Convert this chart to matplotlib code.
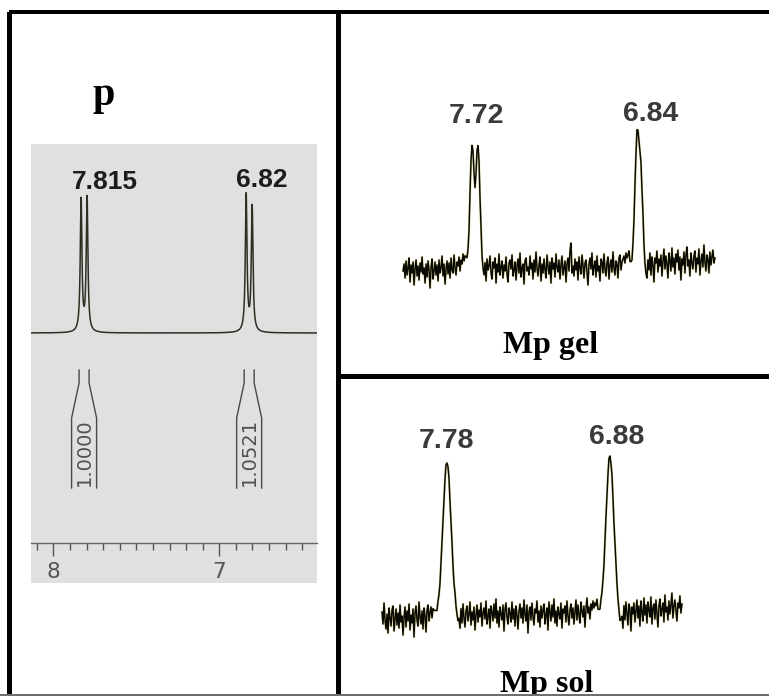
import numpy as np
import matplotlib
matplotlib.use("Agg")
import matplotlib.pyplot as plt
from matplotlib.patches import Rectangle
from matplotlib.ticker import FixedLocator, MultipleLocator, FormatStrFormatter

W, H = 769, 696
DPI = 100

# ---------------- panel p : neat compound, resolved doublets ----------------
P_PEAK_LABELS = ["7.815", "6.82"]
P_MULTIPLET_PPM = [7.815, 6.82]
P_LINE_PPM = [7.833, 7.797, 6.838, 6.802]
P_LINE_HEIGHTS = [132, 134, 137, 125]
P_LINE_HWHM = 0.006
P_INTEGRALS = ["1.0000", "1.0521"]
P_MAJOR_TICKS = [8, 7]
P_WINDOW = (8.135, 6.411)

# ---------------- Mp gel ----------------
GEL_PEAK_LABELS = ["7.72", "6.84"]
GEL_PEAK_PPM = [7.72, 6.84]
GEL_LINE_PPM = [7.736, 7.704, 6.840, 6.818]
GEL_LINE_HEIGHTS = [121, 121, 123, 83]
GEL_LINE_SIGMA = [0.0109, 0.0109, 0.0115, 0.0109]
GEL_WINDOW = (8.111, 6.416)
GEL_NOISE = [
    -4, 3, -11, 6, -8, -1, 9, -15, 2, -6,
    5, -18, -2, 7, -9, 1, -13, 4, -5, 10,
    -7, -1, -16, 3, -10, 6, -3, -21, 0, 8,
    -12, -4, 5, -8, 2, -14, 7, -6, -1, 11,
    -9, 3, -17, -2, 6, -7, 4, -11, 9, -3,
    -6, 12, -1, -8, 5, 1, 10, -4, 7, 3,
    13, 6, 11, 9,
    4, 2, -2, 3, 0, -1, 2, 1, -3, 0, 2, -1, 1, -2, 3, -4, -6,
    -9, 4, -14, 8, -3, 1, 11, -6, -12, 5,
    -1, 9, -16, 3, -5, 13, -8, 0, 6, -11,
    2, -4, 10, -7, -15, 4, 7, -2, 12, -9,
    -3, 5, -13, 1, 8, -6, 14, -10, -1, 3,
    -17, 6, 9, -4, 0, -8, 11, -2, 4, -12,
    7, -5, 15, -1, -9, 2, 10, -14, 3, -6,
    8, -3, -11, 12, 1, -7, 5, -16, 9, -2,
    4, -10, 13, 0, -5, 7, -12, 2, 11, -8,
    -1, 6, -15, 3, 9, -4, 16, 24, -6, 1,
    -9, 8, -3, 5, -13, 10, -1, -7, 12, 2,
    -11, 4, 7, -5, -18, 3, 9, -2, 14, -8,
    0, 6, -10, 11, -4, 1, -14, 8, 5, -6,
    13, -2, -9, 4, 10, -12, 2, 7, -5, 15,
    -1, -8, 6, 3, -11, 9, 12, -3, 5, 8,
    11, 4, 14, 9, 12, 16,
    5, 3, -1, 2, 0, 1, -2, 3, 1, -1, 0, 2, -3, 1, -5, -8, -10,
    -12, 7, -3, 14, -8, 10, 2, -15, 9, 4,
    16, -5, 8, 1, 12, -9, 6, 18, -2, 11,
    3, -11, 14, 7, -4, 19, 0, 9, -7, 13,
    5, 17, -3, 10, -13, 8, 2, 15, -6, 12,
    20, 1, 7, -9, 14, 4, -2, 11, 16, -5,
    9, 3, 18, -8, 6, 13, 0, 22, 5, -4,
    12, 8, -6, 15, 2, 10, 17, 4, 9,
]

# ---------------- Mp sol ----------------
SOL_PEAK_LABELS = ["7.78", "6.88"]
SOL_PEAK_PPM = [7.78, 6.88]
SOL_LINE_HEIGHTS = [153, 158]
SOL_LINE_SIGMA = [0.022, 0.022]
SOL_WINDOW = (8.139, 6.482)
SOL_NOISE = [
    3, -9, 12, -5, -14, 1, -18, 7, -3, -11,
    5, 9, -16, -4, 6, -10, 2, -13, 10, -7,
    -1, -20, -3, 8, -12, 4, -6, 11, -15, 0,
    -8, 6, -22, 2, 9, -5, -11, 13, -2, -9,
    4, -14, 7, -1, -17, 5, 10, -6, 2, 8,
    -3, 6, 4,
    3, 1, -2, 2, 0, -1, 3, 1, 0, -2, 1, 2, -1, 0, 2, -2, 1, 3, 0, -1,
    2, -3, -6, -9, -5,
    -14, 6, -8, 11, -3, -12, 4, 9, -6, 1,
    13, -10, 3, -5, 8, -15, 0, 10, -7, 5,
    -2, 12, -11, 2, 7, -4, 14, -9, -1, 6,
    -13, 9, 3, -6, 11, -3, 16, -8, 4, -12,
    8, 1, -5, 10, -16, 5, 12, -2, -9, 7,
    2, -7, 13, -4, 6, -11, 9, 0, -14, 4,
    11, -3, 7, -8, 15, 1, -6, 10, -18, 3,
    8, -5, 12, -1, -10, 6, 2, 14, -7, 4,
    -12, 9, -3, 5, 11, -9, 0, 7, -15, 13,
    3, -6, 10, -2, 16, -8, 4, -11, 8, 1,
    -4, 12, -13, 6, 2, 9, -7, 14, -1, -10,
    5, 11, -3, 7, -9, 3, 15, -5, 10, 0,
    -8, 13, 4, -2, 9, -12, 6, 17, 2, 8,
    -4, 11, 5, 14, 7, 12, 9, 15,
    4, 2, -1, 3, 1, 0, -2, 2, 1, -1, 0, 3, 1, -1, 2, 0, -2, 1, 3, -1,
    -4, -7, -12, -8, -3,
    -14, 9, -5, 13, 2, -10, 11, 6, -16, 8,
    1, 12, -7, 4, 15, -3, 9, -11, 14, 3,
    -6, 17, 0, 10, -8, 13, 5, -2, 18, -9,
    7, 11, -4, 15, 2, -12, 9, 16, -1, 6,
    12, -7, 20, 3, 8, -5, 14, 1, 10, 22,
    -3, 9, 15, 4, -6, 12, 7, 19, 2, 11,
]

SANS = ["Liberation Sans", "DejaVu Sans"]
SERIF = ["Liberation Serif", "DejaVu Serif"]
PX = 72.0 / DPI  # points per pixel


def px_axes(fig, x0, y0, x1, y1):
    return fig.add_axes([x0 / W, 1 - y1 / H, (x1 - x0) / W, (y1 - y0) / H])


def lorentz(x, c, h, g):
    return h / (1 + ((x - c) / g) ** 2)


def gauss(x, c, h, s):
    return h * np.exp(-0.5 * ((x - c) / s) ** 2)


def noisy_trace(ax, ppm, y):
    ax.plot(ppm, y, color="#b8a830", lw=1.6, alpha=0.55, solid_joinstyle="round")
    ax.plot(ppm, y, color="#0a0a05", lw=1.05)


fig = plt.figure(figsize=(W / DPI, H / DPI), dpi=DPI)
fig.patch.set_facecolor("white")

# ---------------- panel p ----------------
axp = px_axes(fig, 31, 144, 317, 583)
axp.set_facecolor("#e0e0e0")
axp.set_xlim(*P_WINDOW)
axp.set_ylim(-250, 189)
x_p = np.linspace(P_WINDOW[0], P_WINDOW[1], 6000)
y_p = np.zeros_like(x_p)
for c, h in zip(P_LINE_PPM, P_LINE_HEIGHTS):
    y_p += lorentz(x_p, c, h, P_LINE_HWHM)
axp.plot(x_p, y_p, color="#2e2e22", lw=1.1)

for lab, c, (dx, dy) in zip(P_PEAK_LABELS, P_MULTIPLET_PPM, [(21, 151), (13, 153)]):
    axp.annotate(lab, xy=(c, 0), xytext=(dx * PX, dy * PX), textcoords="offset points",
                 ha="center", va="center", fontsize=19, fontweight="bold",
                 family=SANS, color="#1c1c1c")

# integral brackets
scale_p = 165.9  # px per ppm
for c, txt in zip(P_MULTIPLET_PPM, P_INTEGRALS):
    ht, hb = 5 / scale_p, 12.5 / scale_p
    ys = [-37, -50, -85, -155]
    for sgn in (1, -1):
        axp.plot([c + sgn * ht, c + sgn * ht, c + sgn * hb, c + sgn * hb], ys,
                 color="#4a4a40", lw=1.0)
    axp.text(c, -119, txt, rotation=90, ha="center", va="center",
             fontsize=14, family=["DejaVu Sans"], color="#505050")

# ppm ruler
for s in ("top", "left", "right"):
    axp.spines[s].set_visible(False)
axp.spines["bottom"].set_position(("data", -210))
axp.spines["bottom"].set_color("#666666")
axp.spines["bottom"].set_linewidth(1.0)
axp.set_yticks([])
axp.xaxis.set_major_locator(FixedLocator(P_MAJOR_TICKS))
axp.xaxis.set_minor_locator(MultipleLocator(0.1))
axp.xaxis.set_major_formatter(FormatStrFormatter("%d"))
axp.tick_params(axis="x", which="major", length=9.5, width=1.0, color="#555555",
                pad=4, labelsize=15.5, labelcolor="#555555", direction="out")
axp.tick_params(axis="x", which="minor", length=5, width=1.0, color="#555555",
                direction="out")

fig.text(104 / W, 1 - 105 / H, "p", ha="center", va="baseline", fontsize=29,
         fontweight="bold", family=SERIF, color="black")

# ---------------- Mp gel ----------------
axg = px_axes(fig, 342, 15, 769, 374)
axg.set_xlim(7.72 + (475 - 342) / 184, 7.72 - (769 - 475) / 184)
axg.set_ylim(-107, 252)
axg.axis("off")
x_g = np.linspace(GEL_WINDOW[0], GEL_WINDOW[1], len(GEL_NOISE))
y_g = np.array(GEL_NOISE, dtype=float)
for c, h, s in zip(GEL_LINE_PPM, GEL_LINE_HEIGHTS, GEL_LINE_SIGMA):
    y_g += gauss(x_g, c, h, s)
noisy_trace(axg, x_g, y_g)
for lab, c, (dx, dy) in zip(GEL_PEAK_LABELS, GEL_PEAK_PPM, [(2, 151), (14, 153)]):
    axg.annotate(lab, xy=(c, 0), xytext=(dx * PX, dy * PX), textcoords="offset points",
                 ha="center", va="center", fontsize=20.5, fontweight="bold",
                 family=SANS, color="#3a3a3a")
fig.text(551 / W, 1 - 353 / H, "Mp gel", ha="center", va="baseline", fontsize=23,
         fontweight="bold", family=SERIF, color="black")

# ---------------- Mp sol ----------------
axs = px_axes(fig, 342, 379, 769, 694)
axs.set_xlim(7.78 + (447 - 342) / 181, 7.78 - (769 - 447) / 181)
axs.set_ylim(-79, 236)
axs.axis("off")
x_s = np.linspace(SOL_WINDOW[0], SOL_WINDOW[1], len(SOL_NOISE))
y_s = np.array(SOL_NOISE, dtype=float)
for c, h, s in zip(SOL_PEAK_PPM, SOL_LINE_HEIGHTS, SOL_LINE_SIGMA):
    y_s += gauss(x_s, c, h, s)
noisy_trace(axs, x_s, y_s)
for lab, c, (dx, dy) in zip(SOL_PEAK_LABELS, SOL_PEAK_PPM, [(0, 174), (7, 178)]):
    axs.annotate(lab, xy=(c, 0), xytext=(dx * PX, dy * PX), textcoords="offset points",
                 ha="center", va="center", fontsize=20.5, fontweight="bold",
                 family=SANS, color="#3a3a3a")
fig.text(547 / W, 1 - 692 / H, "Mp sol", ha="center", va="baseline", fontsize=23,
         fontweight="bold", family=SERIF, color="black")

# ---------------- panel frames ----------------
def px_rect(x0, y0, x1, y1, color):
    fig.patches.append(Rectangle((x0 / W, 1 - y1 / H), (x1 - x0) / W, (y1 - y0) / H,
                                 transform=fig.transFigure, facecolor=color,
                                 edgecolor="none", zorder=10))

px_rect(9, 9.5, W, 14.3, "black")        # top
px_rect(7, 12, 12.3, H, "black")         # left
px_rect(335.5, 9.5, 341, H, "black")     # centre divider
px_rect(340, 374, W, 379.3, "black")     # right divider
px_rect(0, 694, W, H, "#6e6e6e")         # bottom edge

fig.savefig("out.png", dpi=DPI)
